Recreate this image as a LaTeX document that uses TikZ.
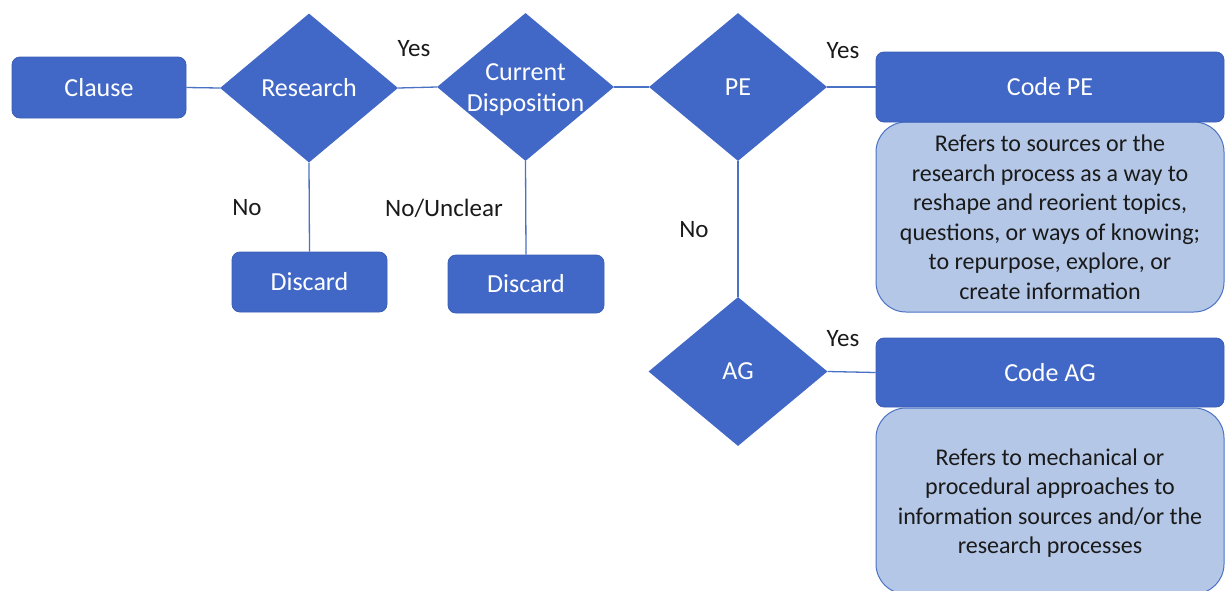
\documentclass[tikz,border=0pt]{standalone}
\usepackage{fontspec}
\setmainfont{Carlito}
\usetikzlibrary{shapes.geometric}
\definecolor{dblue}{HTML}{4268C7}
\definecolor{dedge}{HTML}{3A5DB5}
\definecolor{lblue}{HTML}{B4C7E7}
\definecolor{lineblue}{HTML}{4A72C4}
\definecolor{txtgray}{HTML}{1A1A1A}
\tikzset{
  darkbox/.style={rectangle, rounded corners=8pt, fill=dblue, draw=dedge, line width=0.8pt,
    text=white, font=\fontsize{26}{30}\selectfont, inner sep=0pt},
  lightbox/.style={rectangle, rounded corners=30pt, fill=lblue, draw=lineblue, line width=1pt,
    text=txtgray, font=\fontsize{24}{29.5}\selectfont, align=center, inner sep=0pt},
  decision/.style={diamond, fill=dblue, inner sep=0pt, minimum width=178pt, minimum height=149pt},
  dectext/.style={text=white, font=\fontsize{26}{31}\selectfont, align=center},
  yn/.style={text=txtgray, font=\fontsize{25}{30}\selectfont, inner sep=0pt},
  conn/.style={draw=lineblue, line width=1.3pt},
}
\begin{document}
\begin{tikzpicture}[x=1pt, y=-1pt]
\useasboundingbox (0,0) rectangle (1225,590);
% nodes
\node[darkbox, minimum width=174pt, minimum height=61pt] (clause) at (99,87.5) {Clause};
\node[decision, label={[dectext]center:Research}] (research) at (309,88) {};
\node[darkbox, minimum width=155pt, minimum height=60pt] (discard1) at (309.5,282) {Discard};
\node[decision, minimum width=177pt, minimum height=148pt, label={[dectext, yshift=-3pt]center:{Current\\Disposition}}] (cd) at (525.5,87) {};
\node[darkbox, minimum width=156pt, minimum height=58pt] (discard2) at (526,284) {Discard};
\node[decision, minimum height=148pt, label={[dectext]center:PE}] (pe) at (738,87) {};
\node[decision, minimum width=179pt, label={[dectext]center:AG}] (ag) at (738,371.5) {};
\node[lightbox, minimum width=348pt, minimum height=190pt] (pedesc) at (1050,217)
  {Refers to sources or the\\research process as a way to\\reshape and reorient topics,\\questions, or ways of knowing;\\to repurpose, explore, or\\create information};
\node[darkbox, minimum width=348pt, minimum height=70pt] (codepe) at (1050,87) {Code PE};
\node[lightbox, minimum width=348pt, minimum height=186pt,
  label={[text=txtgray, font=\fontsize{24}{29.5}\selectfont, align=center, yshift=-2pt]center:{Refers to mechanical or\\procedural approaches to\\information sources and/or the\\research processes}}] (agdesc) at (1050,501) {};
\node[darkbox, minimum width=348pt, minimum height=69pt] (codeag) at (1050,372.5) {Code AG};
% labels
\node[yn] (yes1) at (414,49) {Yes};
\node[yn] (no1) at (247,208) {No};
\node[yn] (nounc) at (444,208) {No/Unclear};
\node[yn] (no2) at (694,230) {No};
\node[yn] (yes2) at (843,51) {Yes};
\node[yn] (yes3) at (843,339) {Yes};
% connectors
\path[conn] (clause.east) -- (research.west);
\path[conn] (research.east) -- (cd.west);
\path[conn] (cd.east) -- (pe.west);
\path[conn] (pe.east) -- (codepe.west);
\path[conn] (research.south) -- (discard1.north);
\path[conn] (cd.south) -- (discard2.north);
\path[conn] (pe.south) -- (ag.north);
\path[conn] (ag.east) -- (codeag.west);
\end{tikzpicture}
\end{document}
